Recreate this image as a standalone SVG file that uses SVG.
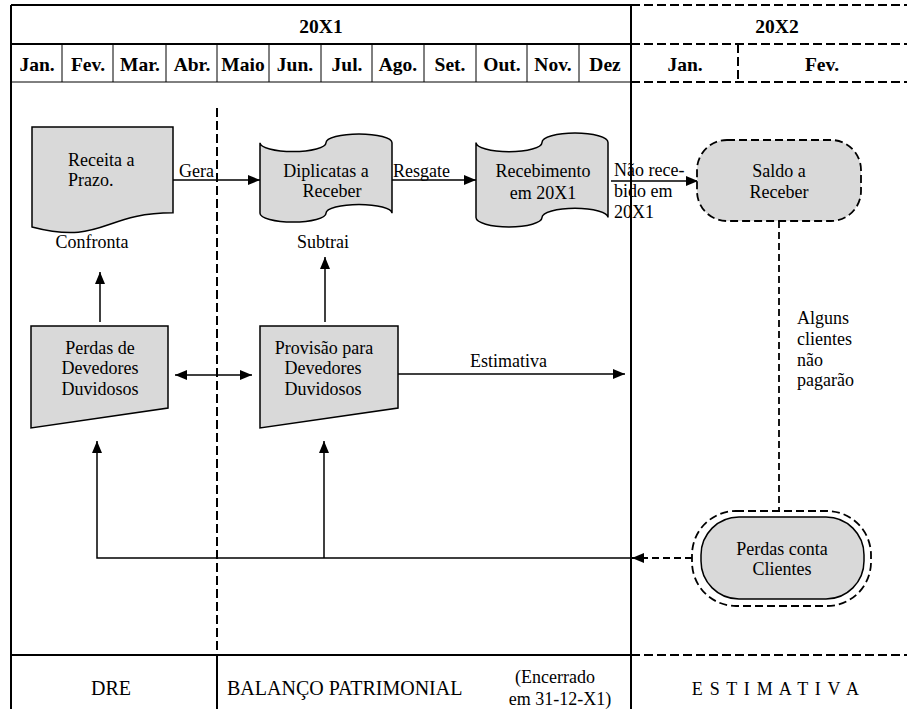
<svg xmlns="http://www.w3.org/2000/svg" width="907" height="709" viewBox="0 0 907 709">
  <style>
    text { font-family: "Liberation Serif", Tinos, "Times New Roman", Times, serif; font-size: 18px; fill: #000; }
    .hd { font-weight: bold; text-anchor: middle; font-size: 19.5px; }
    .mid { text-anchor: middle; }
    .foot { font-size: 20px; }
    .grid { stroke: #000; stroke-width: 2; fill: none; }
    .thin { stroke: #000; stroke-width: 1; fill: none; }
    .dash { stroke: #000; stroke-width: 2; stroke-dasharray: 9 4; fill: none; }
    .shape { fill: #d9d9d9; stroke: #000; stroke-width: 1.5; }
    .dshape { fill: #d9d9d9; stroke: #000; stroke-width: 1.8; stroke-dasharray: 8 4; }
    .conn { stroke: #000; stroke-width: 1.5; fill: none; }
    .dconn { stroke: #000; stroke-width: 1.8; stroke-dasharray: 7 4; fill: none; }
  </style>
  <defs>
    <marker id="ah" viewBox="0 0 12 10" refX="12" refY="5" markerWidth="12" markerHeight="10" markerUnits="userSpaceOnUse" orient="auto-start-reverse">
      <path d="M0,0 L12,5 L0,10 Z" fill="#000"/>
    </marker>
  </defs>
  <rect width="907" height="709" fill="#fff"/>

  <!-- table frame -->
  <g id="table">
    <line class="grid" x1="11" y1="5" x2="631" y2="5"/>
    <line class="dash" x1="631" y1="5" x2="907" y2="5"/>
    <line class="grid" x1="11" y1="44" x2="631" y2="44"/>
    <line class="dash" x1="631" y1="44" x2="907" y2="44"/>
    <line class="thin" x1="11" y1="82" x2="631" y2="82"/>
    <line class="dash" x1="631" y1="82" x2="907" y2="82"/>
    <line class="grid" x1="11" y1="655" x2="631" y2="655"/>
    <line class="dash" x1="631" y1="655" x2="907" y2="655"/>
    <line class="grid" x1="11" y1="5" x2="11" y2="709"/>
    <line class="grid" x1="631" y1="5" x2="631" y2="709"/>
    <g class="thin">
      <line x1="62" y1="44" x2="62" y2="82"/>
      <line x1="113" y1="44" x2="113" y2="82"/>
      <line x1="166" y1="44" x2="166" y2="82"/>
      <line x1="217" y1="44" x2="217" y2="82"/>
      <line x1="269" y1="44" x2="269" y2="82"/>
      <line x1="321" y1="44" x2="321" y2="82"/>
      <line x1="372" y1="44" x2="372" y2="82"/>
      <line x1="424" y1="44" x2="424" y2="82"/>
      <line x1="476" y1="44" x2="476" y2="82"/>
      <line x1="527" y1="44" x2="527" y2="82"/>
      <line x1="579" y1="44" x2="579" y2="82"/>
    </g>
    <line class="dash" x1="738" y1="44" x2="738" y2="82"/>
    <line class="dash" x1="217" y1="108" x2="217" y2="655"/>
    <line class="grid" x1="217" y1="655" x2="217" y2="709"/>

    <text class="hd" x="321" y="33">20X1</text>
    <text class="hd" x="777" y="33">20X2</text>
    <text class="hd" x="37" y="71">Jan.</text>
    <text class="hd" x="88" y="71">Fev.</text>
    <text class="hd" x="140" y="71">Mar.</text>
    <text class="hd" x="192" y="71">Abr.</text>
    <text class="hd" x="243" y="71">Maio</text>
    <text class="hd" x="295" y="71">Jun.</text>
    <text class="hd" x="347" y="71">Jul.</text>
    <text class="hd" x="398" y="71">Ago.</text>
    <text class="hd" x="450" y="71">Set.</text>
    <text class="hd" x="502" y="71">Out.</text>
    <text class="hd" x="553" y="71">Nov.</text>
    <text class="hd" x="605" y="71">Dez</text>
    <text class="hd" x="685" y="71">Jan.</text>
    <text class="hd" x="822" y="71">Fev.</text>

    <text class="mid foot" x="111" y="695">DRE</text>
    <text class="foot" x="227" y="695">BALANÇO PATRIMONIAL</text>
    <text class="mid" x="555" y="683">(Encerrado</text>
    <text class="mid" x="560" y="705">em 31-12-X1)</text>
    <text class="mid" x="776" y="695" letter-spacing="1.2">E S T I M A T I V A</text>
  </g>

  <!-- connectors -->
  <g id="connectors">
    <line class="conn" x1="173" y1="180" x2="260" y2="180" marker-end="url(#ah)"/>
    <line class="conn" x1="392" y1="180" x2="476" y2="180" marker-end="url(#ah)"/>
    <line class="conn" x1="611" y1="181" x2="698" y2="181" marker-end="url(#ah)"/>
    <line class="conn" x1="100" y1="322" x2="100" y2="272" marker-end="url(#ah)"/>
    <line class="conn" x1="325" y1="322" x2="325" y2="257" marker-end="url(#ah)"/>
    <line class="conn" x1="175" y1="375" x2="252" y2="375" marker-start="url(#ah)" marker-end="url(#ah)"/>
    <line class="conn" x1="398" y1="374" x2="625" y2="374" marker-end="url(#ah)"/>
    <polyline class="conn" points="630,558 97,558 97,441" marker-end="url(#ah)"/>
    <line class="conn" x1="324" y1="558" x2="324" y2="441" marker-end="url(#ah)"/>
    <line class="dconn" x1="779" y1="221" x2="779" y2="511"/>
    <line class="dconn" x1="692" y1="558" x2="632" y2="558" marker-end="url(#ah)"/>

    <text x="179" y="177">Gera</text>
    <text x="393" y="177">Resgate</text>
    <text x="614" y="176">Não rece-</text>
    <text x="614" y="197">bido em</text>
    <text x="614" y="218">20X1</text>
    <text class="mid" x="92" y="248">Confronta</text>
    <text class="mid" x="323" y="248">Subtrai</text>
    <text x="470" y="367">Estimativa</text>
    <text x="797" y="324">Alguns</text>
    <text x="797" y="345">clientes</text>
    <text x="797" y="366">não</text>
    <text x="797" y="386">pagarão</text>
  </g>

  <g id="receita">
    <path class="shape" d="M32,127 H173 V212.8 C102.5,212.8 102.5,245.5 32,226.9 Z"/>
    <text x="68" y="166">Receita a</text>
    <text x="68" y="186">Prazo.</text>
  </g>

  <g id="duplicatas">
    <path class="shape" d="M260,142.8 A33,8.8 0 0 0 326,142.8 A33,8.8 0 0 1 392,142.8 V213.2 A33,8.8 0 0 0 326,213.2 A33,8.8 0 0 1 260,213.2 Z"/>
    <text class="mid" x="326" y="177">Diplicatas a</text>
    <text class="mid" x="332" y="197">Receber</text>
  </g>

  <g id="recebimento">
    <path class="shape" d="M476,142.4 A33,9.4 0 0 0 542,142.4 A33,9.4 0 0 1 608,142.4 V217.6 A33,9.4 0 0 0 542,217.6 A33,9.4 0 0 1 476,217.6 Z"/>
    <text class="mid" x="543" y="177">Recebimento</text>
    <text class="mid" x="543" y="199">em 20X1</text>
  </g>

  <g id="saldo">
    <rect class="dshape" x="697" y="140" width="164" height="81" rx="30" ry="30"/>
    <text class="mid" x="779" y="177">Saldo a</text>
    <text class="mid" x="779" y="198">Receber</text>
  </g>

  <g id="perdas-dd">
    <path class="shape" d="M31,326 H168 V408 L31,428 Z"/>
    <text class="mid" x="100" y="354">Perdas de</text>
    <text class="mid" x="100" y="374">Devedores</text>
    <text class="mid" x="100" y="395">Duvidosos</text>
  </g>

  <g id="provisao">
    <path class="shape" d="M260,326 H398 V408 L260,428 Z"/>
    <text class="mid" x="324" y="354">Provisão para</text>
    <text class="mid" x="323" y="374">Devedores</text>
    <text class="mid" x="323" y="395">Duvidosos</text>
  </g>

  <g id="perdas-clientes">
    <rect x="692" y="511" width="179" height="95" rx="44" ry="44" fill="none" stroke="#000" stroke-width="1.8" stroke-dasharray="8 4"/>
    <rect class="shape" x="701" y="517" width="163" height="82" rx="38" ry="38"/>
    <text class="mid" x="782" y="555">Perdas conta</text>
    <text class="mid" x="782" y="575">Clientes</text>
  </g>
</svg>
